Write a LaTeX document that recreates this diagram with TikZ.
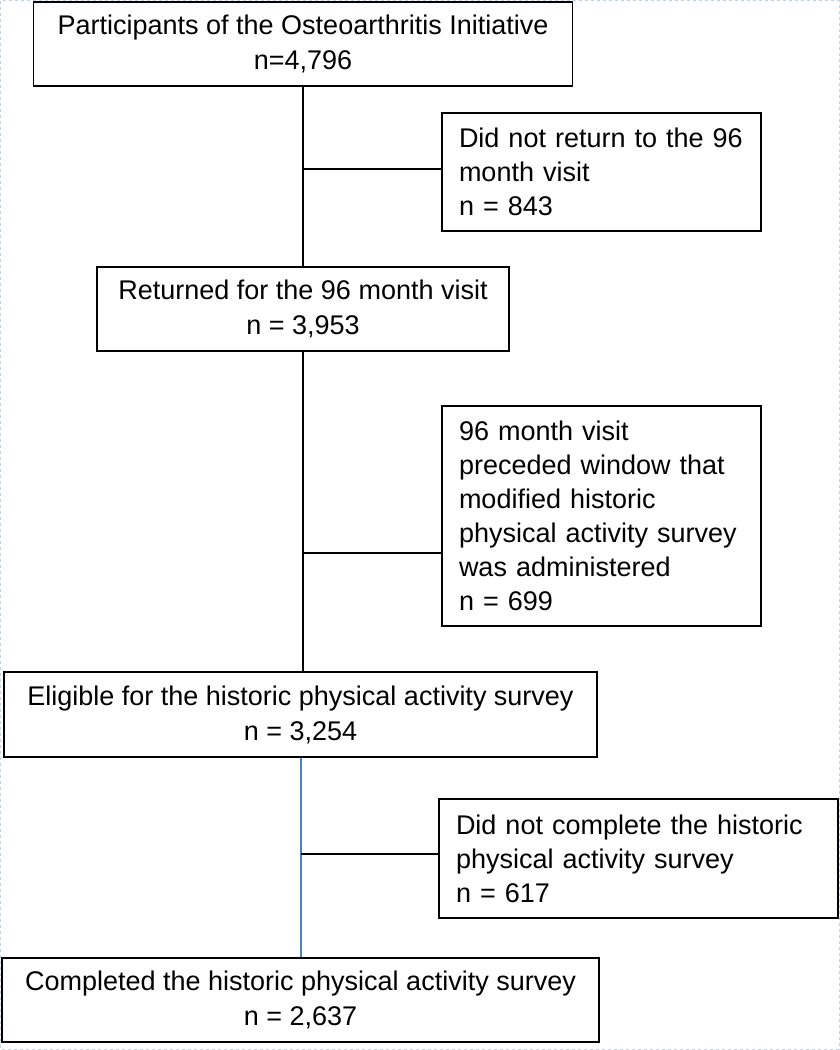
\documentclass[tikz,border=0pt]{standalone}
\usepackage{fontspec}
\setmainfont{Liberation Sans}
\definecolor{framec}{RGB}{196,212,228}
\definecolor{linkblue}{RGB}{79,129,189}
\tikzset{
  x=1pt, y=-1pt,
  box/.style={draw=black, line width=1.8pt, fill=white, inner sep=0pt, align=center,
              font=\fontsize{27}{35}\selectfont},
  sidebox/.style={draw=black, line width=1.8pt, fill=white, inner xsep=17pt, inner ysep=0pt, align=left,
              font=\fontsize{27}{34}\selectfont},
  conn/.style={draw=black, line width=1.8pt},
  blueconn/.style={draw=linkblue, line width=1.4pt},
}
\begin{document}
\begin{tikzpicture}
\useasboundingbox (0,0) rectangle (840,1050);
\fill[white] (0,0) rectangle (840,1050);
\draw[framec, line width=1pt, dash pattern=on 3pt off 3pt] (0.8,0.8) rectangle (839.2,1049.2);

\node[box, minimum width=539, minimum height=84] (p) at (303,44)
  {Participants of the Osteoarthritis Initiative\\n=4,796};
\node[sidebox, minimum width=319, minimum height=118, text width=285] (d1) at (601.5,172)
  {Did not return to the 96\\month visit\\n = 843};
\node[box, minimum width=412, minimum height=84] (r) at (303,309)
  {Returned for the 96 month visit\\n = 3,953};
\node[sidebox, minimum width=319, minimum height=220, text width=285] (d2) at (601.5,516)
  {96 month visit\\preceded window that\\modified historic\\physical activity survey\\was administered\\n = 699};
\node[box, minimum width=593, minimum height=85] (e) at (300.5,714.5)
  {Eligible for the historic physical activity survey\\n = 3,254};
\node[sidebox, minimum width=399, minimum height=119, text width=365] (d3) at (638.5,858.5)
  {Did not complete the historic\\physical activity survey\\n = 617};
\node[box, minimum width=597, minimum height=84] (c) at (300.5,1000)
  {Completed the historic physical activity survey\\n = 2,637};

\coordinate (j1) at (303,169);
\coordinate (j2) at (303,553);
\coordinate (j3) at (301,854);

\draw[conn] (p.south) -- (r.north);
\draw[conn] (j1) -- (j1 -| d1.west);
\draw[conn] (r.south) -- (r.south |- e.north);
\draw[conn] (j2) -- (j2 -| d2.west);
\draw[blueconn] (j3 |- e.south) -- (j3 |- c.north);
\draw[conn] (j3) -- (j3 -| d3.west);
\end{tikzpicture}
\end{document}
